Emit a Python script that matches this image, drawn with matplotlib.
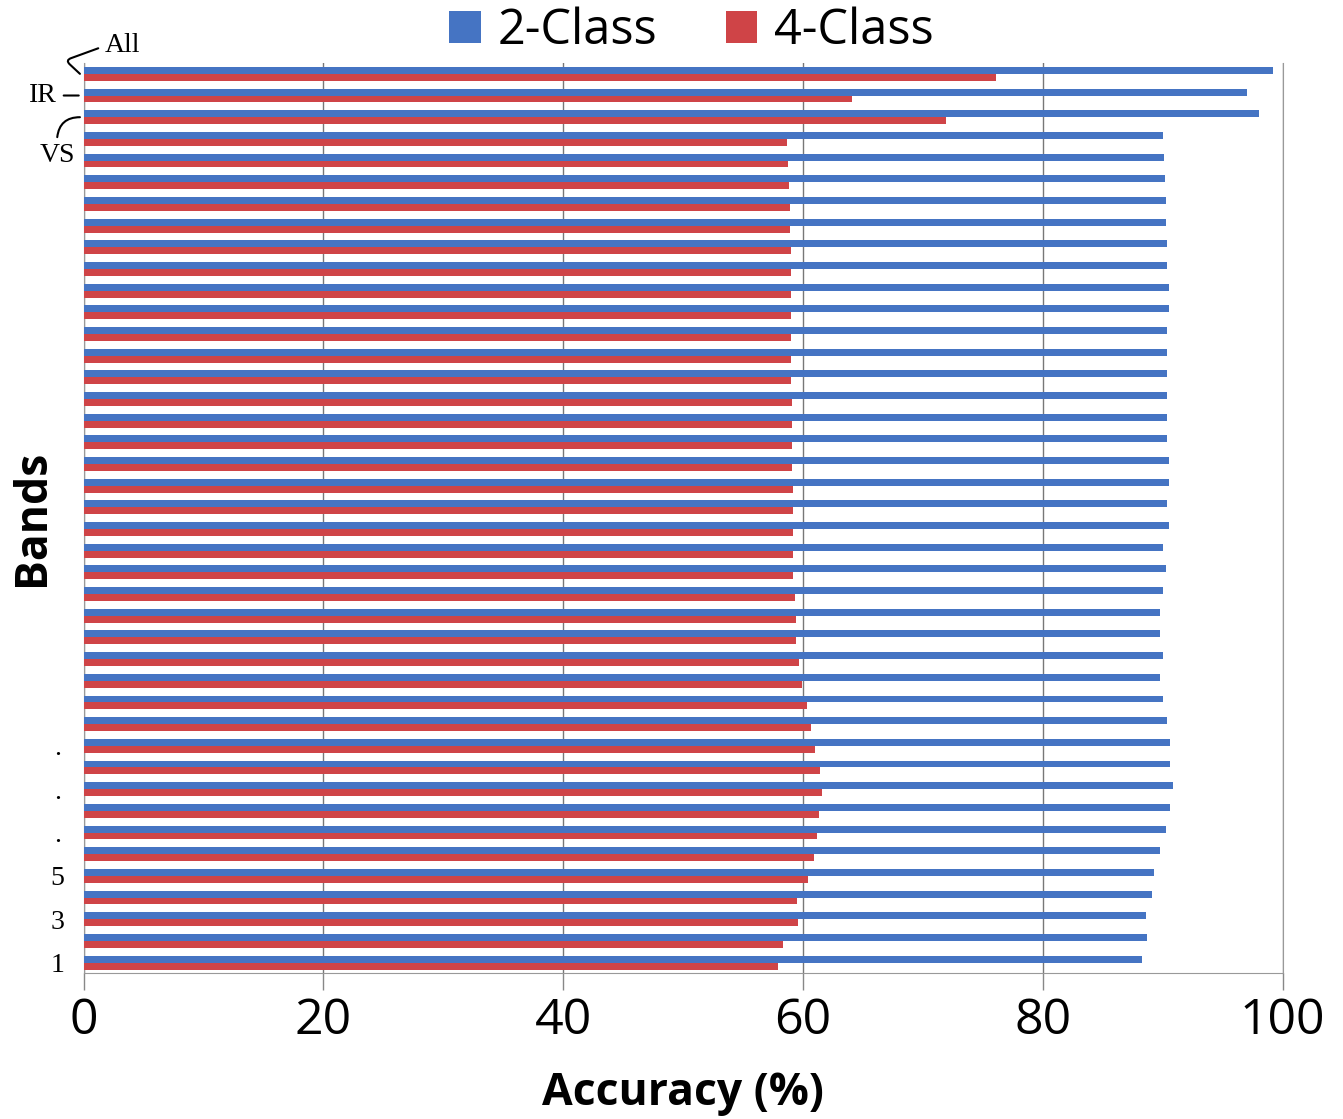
import matplotlib.pyplot as plt
import numpy as np

plt.rcParams['font.family'] = ['Open Sans', 'DejaVu Sans']

# bottom to top: single bands 1..39, then VS, IR, All
acc_2class = [88.25, 88.7, 88.6, 89.1, 89.3, 89.75, 90.3, 90.6, 90.9, 90.6,
              90.6, 90.4, 90.0, 89.8, 90.0, 89.8, 89.8, 90.0, 90.25, 90.0,
              90.5, 90.4, 90.5, 90.5, 90.4, 90.4, 90.4, 90.4, 90.4, 90.4,
              90.5, 90.5, 90.4, 90.4, 90.3, 90.3, 90.2, 90.1, 90.0,
              98.0, 97.0, 99.2]
acc_4class = [57.9, 58.3, 59.6, 59.5, 60.4, 60.9, 61.2, 61.3, 61.6, 61.4,
              61.0, 60.7, 60.3, 59.95, 59.7, 59.4, 59.4, 59.3, 59.2, 59.2,
              59.2, 59.15, 59.15, 59.1, 59.05, 59.05, 59.05, 59.0, 59.0, 59.0,
              59.0, 59.0, 59.0, 59.0, 58.95, 58.9, 58.85, 58.75, 58.7,
              71.9, 64.1, 76.1]
series_names = ['2-Class', '4-Class']
band_ticks = [0, 2, 4, 6, 8, 10]
band_tick_labels = ['1', '3', '5', '.', '.', '.']
group_labels = ['VS', 'IR', 'All']

blue = '#4574C3'
red = '#CF4447'

fig = plt.figure(figsize=(13.43, 11.19), dpi=100)
ax = fig.add_axes([0.0622, 0.1305, 0.8928, 0.8132])

y = np.arange(len(acc_2class))
h = 0.32
ax.barh(y + h / 2, acc_2class, height=h, color=blue, label=series_names[0], zorder=3)
ax.barh(y - h / 2, acc_4class, height=h, color=red, label=series_names[1], zorder=3)

ax.set_xlim(0, 100)
ax.set_ylim(-0.48, 41.5)
ax.set_xticks([0, 20, 40, 60, 80, 100])
ax.tick_params(axis='x', labelsize=36, length=12, width=1, color='#888888', pad=5)
ax.grid(axis='x', color='#777777', linewidth=1, zorder=0)

ax.set_yticks(band_ticks)
ax.set_yticklabels(band_tick_labels, family='Liberation Serif', fontsize=20)
ax.tick_params(axis='y', length=0, pad=19)
for t in ax.get_yticklabels():
    t.set_horizontalalignment('center')

for s in ['left', 'bottom', 'right']:
    ax.spines[s].set_color('#999999')
ax.spines['top'].set_visible(False)

ax.set_xlabel('Accuracy (%)', fontsize=32, fontweight='bold', labelpad=18)
ax.set_ylabel('Bands', fontsize=32, fontweight='bold')
ax.yaxis.set_label_coords(-0.024, 0.5)

# group labels on the left with their little connector lines
n = len(acc_2class)
serif = dict(family='Liberation Serif', fontsize=20)
ax.annotate(group_labels[2], xy=(-0.3, n - 1), xycoords='data',
            xytext=(25, 28), textcoords='offset pixels', ha='left', va='center',
            annotation_clip=False, **serif,
            arrowprops=dict(arrowstyle='-', lw=1.5, color='black', relpos=(0, 0.5),
                            shrinkA=3, shrinkB=0,
                            connectionstyle='angle,angleA=20,angleB=137,rad=6'))
ax.annotate(group_labels[1], xy=(-0.4, n - 2), xycoords='data',
            xytext=(-22, 0), textcoords='offset pixels', ha='right', va='center',
            annotation_clip=False, **serif,
            arrowprops=dict(arrowstyle='-', lw=1.5, color='black', relpos=(1, 0.5),
                            shrinkA=3, shrinkB=0))
ax.annotate(group_labels[0], xy=(-0.3, n - 3), xycoords='data',
            xytext=(-23, -38), textcoords='offset pixels', ha='center', va='center',
            annotation_clip=False, **serif,
            arrowprops=dict(arrowstyle='-', lw=1.5, color='black', relpos=(0.5, 1),
                            shrinkA=2, shrinkB=0,
                            connectionstyle='angle3,angleA=90,angleB=0'))

fig.legend(loc='center', bbox_to_anchor=(0.515, 0.972), ncol=2, frameon=False,
           fontsize=35, handlelength=0.65, handleheight=0.65, handletextpad=0.35,
           columnspacing=1.4, borderpad=0)

plt.savefig('out.png', dpi=100)
